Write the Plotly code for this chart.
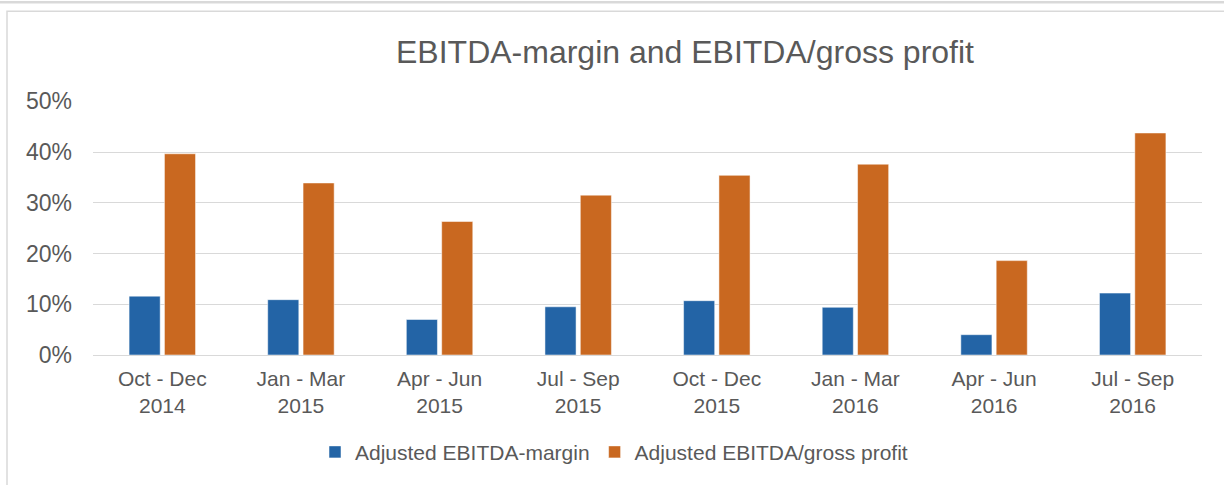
import plotly.graph_objects as go

categories = ["Oct - Dec<br>2014", "Jan - Mar<br>2015", "Apr - Jun<br>2015", "Jul - Sep<br>2015",
              "Oct - Dec<br>2015", "Jan - Mar<br>2016", "Apr - Jun<br>2016", "Jul - Sep<br>2016"]
ebitda_margin = [0.116, 0.109, 0.070, 0.095, 0.107, 0.094, 0.040, 0.122]
ebitda_gross = [0.3965, 0.339, 0.263, 0.315, 0.354, 0.376, 0.186, 0.4375]
y_ticks = [0, 0.1, 0.2, 0.3, 0.4, 0.5]
y_tick_labels = ["0%", "10%", "20%", "30%", "40%", "50%"]

W, H = 1224, 485
L, R, T, B = 93, 22, 101, 128
PW, PH = W - L - R, H - T - B

def px(x):
    return (x - L) / PW

def py(y):
    return (H - B - y) / PH

FONT = "Liberation Sans, Arial, sans-serif"
GREY = "#595959"
GRID = "#d9d9d9"

fig = go.Figure()
fig.add_trace(go.Bar(x=categories, y=ebitda_margin, name="Adjusted EBITDA-margin",
                     marker=dict(color="#2364A6", line=dict(color="rgba(255,255,255,0.5)", width=1))))
fig.add_trace(go.Bar(x=categories, y=ebitda_gross, name="Adjusted EBITDA/gross profit",
                     marker=dict(color="#C96820", line=dict(color="rgba(255,255,255,0.5)", width=1))))

fig.update_layout(
    width=W, height=H,
    margin=dict(l=L, r=R, t=T, b=B, pad=0),
    paper_bgcolor="white", plot_bgcolor="white",
    barmode="group", bargap=0.49, bargroupgap=0.12,
    font=dict(family=FONT, color=GREY),
    title=dict(text="EBITDA-margin and EBITDA/gross profit", font=dict(size=32, color=GREY, family=FONT),
               x=px(685), xref="paper", xanchor="center", y=1 - 51.5 / H, yref="container", yanchor="middle"),
    showlegend=True,
    legend=dict(orientation="h", x=px(614), xanchor="center", y=py(455), yanchor="middle",
                font=dict(size=21, color=GREY, family=FONT), itemwidth=30, traceorder="normal"),
    xaxis=dict(showgrid=False, showline=False, ticks="", tickfont=dict(size=21, color=GREY),
               ticklabelstandoff=9),
    yaxis=dict(range=[0, 0.5005], tickvals=y_ticks, ticktext=y_tick_labels, showgrid=True,
               gridcolor=GRID, gridwidth=1.3, zeroline=True, zerolinecolor=GRID, zerolinewidth=1.3,
               showline=False, ticks="", tickfont=dict(size=23, color=GREY), ticklabelstandoff=20),
    shapes=[
        dict(type="rect", xref="paper", yref="paper", x0=px(7), x1=px(1240), y0=py(500), y1=py(10.5),
             line=dict(color=GRID, width=1.5), fillcolor="rgba(0,0,0,0)", layer="below"),
        dict(type="line", xref="paper", yref="paper", x0=px(-10), x1=px(1240), y0=py(1.5), y1=py(1.5),
             line=dict(color=GRID, width=2.5)),
    ],
)

fig.write_html("out.html", config={"displayModeBar": False},
               post_script="document.body.style.margin='0';document.body.style.overflow='hidden';")
